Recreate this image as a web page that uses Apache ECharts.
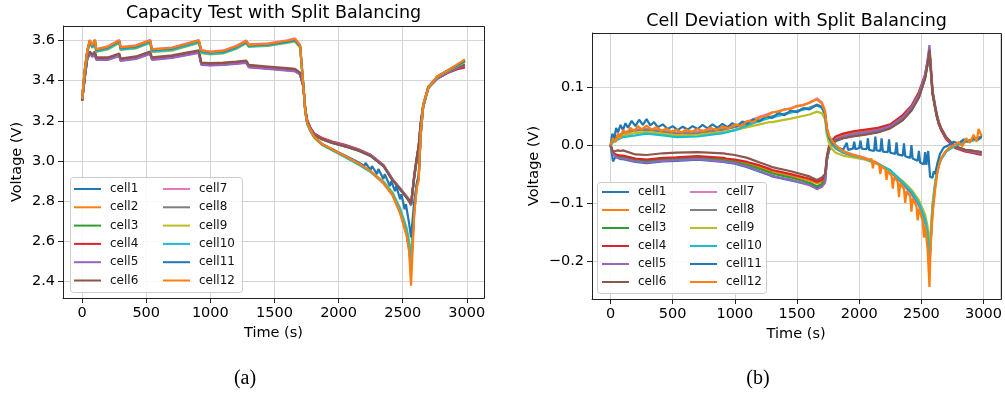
<!DOCTYPE html>
<html><head><meta charset="utf-8">
<script src="https://cdn.jsdelivr.net/npm/echarts@6/dist/echarts.min.js"></script>
<style>html,body{margin:0;padding:0;background:#fff}#c{width:1005px;height:398px}</style>
</head><body><div id="c"></div>
<script>
// ---------- DATA ----------
const cellNames = ['cell1','cell2','cell3','cell4','cell5','cell6','cell7','cell8','cell9','cell10','cell11','cell12'];
const cellColors = ['#1f77b4','#ff7f0e','#2ca02c','#d62728','#9467bd','#8c564b','#e377c2','#7f7f7f','#bcbd22','#17becf','#1f77b4','#ff7f0e'];

// shared time stamps (s)
const timeA = [0,20,40,60,80,100,110,200,290,300,420,530,545,700,910,930,1000,1100,1200,1280,1300,1450,1600,1660,1700,1725,1740,1755,1780,1810,1870,1950,2050,2150,2250,2350,2420,2480,2530,2550,2565,2590,2610,2625,2640,2660,2700,2770,2850,2920,2985];

// (a) cell voltages (V)
const voltCell1 = [3.30,3.41,3.508,3.535,3.52,3.535,3.505,3.505,3.525,3.50,3.51,3.535,3.505,3.515,3.54,3.48,3.477,3.48,3.485,3.49,3.468,3.46,3.452,3.448,3.432,3.372,3.256,3.20,3.162,3.132,3.108,3.09,3.073,3.053,3.025,2.975,2.905,2.858,2.818,2.80,2.78,2.92,3.01,3.07,3.18,3.27,3.365,3.41,3.44,3.46,3.472];
const voltCell2 = [3.30,3.412,3.51,3.537,3.522,3.537,3.507,3.507,3.527,3.502,3.512,3.537,3.507,3.517,3.542,3.482,3.479,3.482,3.487,3.492,3.47,3.462,3.454,3.45,3.433,3.373,3.257,3.201,3.164,3.134,3.11,3.092,3.075,3.055,3.027,2.977,2.907,2.86,2.82,2.802,2.782,2.922,3.012,3.072,3.18,3.27,3.366,3.411,3.441,3.461,3.474];
const voltCell3 = [3.30,3.411,3.509,3.536,3.521,3.536,3.506,3.506,3.526,3.501,3.511,3.536,3.506,3.516,3.541,3.481,3.478,3.481,3.486,3.491,3.469,3.461,3.453,3.449,3.432,3.372,3.256,3.2,3.163,3.133,3.109,3.091,3.074,3.054,3.026,2.976,2.906,2.859,2.819,2.801,2.781,2.921,3.011,3.071,3.18,3.27,3.365,3.41,3.44,3.46,3.47];
const voltCell4 = [3.30,3.415,3.512,3.538,3.523,3.538,3.508,3.508,3.528,3.503,3.513,3.538,3.508,3.518,3.543,3.483,3.48,3.483,3.488,3.493,3.471,3.463,3.455,3.451,3.434,3.375,3.258,3.203,3.166,3.137,3.115,3.097,3.08,3.06,3.031,2.98,2.91,2.862,2.822,2.805,2.785,2.92,3.01,3.07,3.18,3.27,3.365,3.41,3.438,3.455,3.465];
const voltCell5 = [3.30,3.41,3.505,3.533,3.518,3.533,3.503,3.503,3.523,3.498,3.508,3.533,3.503,3.513,3.538,3.478,3.475,3.478,3.483,3.488,3.466,3.458,3.45,3.446,3.43,3.37,3.255,3.20,3.163,3.133,3.111,3.094,3.077,3.057,3.03,2.98,2.91,2.865,2.825,2.808,2.782,2.925,3.015,3.075,3.185,3.275,3.365,3.41,3.44,3.46,3.475];
const voltCell6 = [3.30,3.42,3.52,3.545,3.53,3.545,3.515,3.515,3.535,3.51,3.52,3.545,3.515,3.525,3.55,3.49,3.487,3.49,3.495,3.50,3.478,3.47,3.462,3.458,3.44,3.38,3.26,3.20,3.16,3.13,3.108,3.09,3.073,3.053,3.025,2.975,2.905,2.86,2.82,2.805,2.787,2.93,3.02,3.08,3.19,3.28,3.37,3.415,3.445,3.465,3.48];
const voltCell7 = [3.31,3.45,3.55,3.602,3.577,3.604,3.557,3.57,3.602,3.567,3.575,3.602,3.557,3.564,3.602,3.552,3.544,3.55,3.572,3.60,3.58,3.585,3.60,3.61,3.577,3.38,3.25,3.19,3.155,3.12,3.085,3.058,3.024,2.988,2.948,2.888,2.83,2.742,2.635,2.56,2.45,2.74,2.872,2.92,3.125,3.272,3.365,3.42,3.45,3.476,3.502];
const voltCell8 = [3.31,3.445,3.545,3.595,3.57,3.597,3.55,3.563,3.595,3.56,3.568,3.595,3.55,3.557,3.595,3.545,3.537,3.543,3.565,3.592,3.573,3.578,3.593,3.602,3.57,3.378,3.248,3.188,3.153,3.118,3.083,3.056,3.022,2.987,2.947,2.89,2.835,2.75,2.645,2.57,2.47,2.745,2.875,2.915,3.125,3.272,3.365,3.42,3.449,3.474,3.50];
const voltCell9 = [3.31,3.44,3.537,3.587,3.562,3.589,3.542,3.555,3.587,3.552,3.56,3.587,3.542,3.549,3.587,3.537,3.53,3.535,3.557,3.585,3.567,3.572,3.587,3.594,3.563,3.375,3.245,3.185,3.15,3.116,3.08,3.053,3.02,2.985,2.947,2.90,2.845,2.765,2.67,2.60,2.52,2.76,2.88,2.92,3.13,3.275,3.365,3.418,3.447,3.47,3.492];
const voltCell10 = [3.31,3.44,3.54,3.59,3.565,3.592,3.545,3.558,3.59,3.555,3.563,3.59,3.545,3.552,3.59,3.54,3.533,3.538,3.56,3.588,3.57,3.575,3.59,3.598,3.567,3.375,3.245,3.185,3.15,3.117,3.082,3.055,3.02,2.985,2.945,2.895,2.84,2.76,2.66,2.59,2.495,2.76,2.88,2.92,3.13,3.275,3.365,3.418,3.448,3.472,3.495];
const timeV11 = [0,20,40,60,80,100,110,200,290,300,420,530,545,700,910,930,1000,1100,1200,1280,1300,1450,1600,1660,1700,1725,1740,1755,1780,1810,1870,1950,2050,2150,2200,2210,2250,2260,2300,2310,2350,2360,2400,2410,2440,2450,2480,2490,2515,2525,2550,2565,2590,2610,2625,2640,2660,2700,2770,2850,2920,2985];
const voltCell11 = [3.31,3.45,3.548,3.598,3.572,3.60,3.552,3.565,3.598,3.562,3.57,3.598,3.552,3.56,3.598,3.547,3.54,3.545,3.567,3.594,3.575,3.58,3.595,3.603,3.572,3.38,3.25,3.19,3.155,3.12,3.085,3.058,3.027,2.995,2.975,2.99,2.955,2.975,2.935,2.96,2.91,2.935,2.875,2.90,2.85,2.875,2.81,2.835,2.76,2.785,2.69,2.62,2.80,2.89,2.93,3.13,3.28,3.365,3.42,3.45,3.475,3.50];
const voltCell12 = [3.31,3.45,3.55,3.60,3.575,3.602,3.555,3.568,3.60,3.565,3.573,3.60,3.555,3.562,3.60,3.55,3.542,3.548,3.57,3.597,3.578,3.583,3.598,3.607,3.575,3.38,3.25,3.19,3.155,3.12,3.085,3.058,3.025,2.99,2.95,2.89,2.83,2.74,2.63,2.55,2.38,2.74,2.87,2.905,3.13,3.28,3.365,3.42,3.45,3.478,3.505];

// (b) cell deviation (V)
const devCell1 = [0.0,-0.028,-0.02,-0.022,-0.024,-0.024,-0.026,-0.029,-0.031,-0.03,-0.028,-0.027,-0.027,-0.025,-0.029,-0.03,-0.032,-0.038,-0.046,-0.052,-0.054,-0.061,-0.068,-0.074,-0.07,-0.063,-0.027,-0.01,0.0,0.007,0.012,0.016,0.019,0.023,0.03,0.044,0.06,0.083,0.116,0.14,0.16,0.088,0.064,0.048,0.036,0.026,0.011,-0.002,-0.008,-0.011,-0.013];
const devCell2 = [0.0,-0.013,-0.016,-0.018,-0.019,-0.019,-0.021,-0.024,-0.026,-0.025,-0.023,-0.022,-0.022,-0.02,-0.024,-0.025,-0.027,-0.031,-0.038,-0.044,-0.046,-0.053,-0.061,-0.066,-0.063,-0.057,-0.023,-0.006,0.005,0.012,0.017,0.021,0.024,0.027,0.033,0.048,0.064,0.087,0.12,0.143,0.163,0.09,0.066,0.05,0.037,0.026,0.011,-0.003,-0.009,-0.012,-0.014];
const devCell3 = [0.0,-0.014,-0.018,-0.02,-0.021,-0.021,-0.023,-0.026,-0.028,-0.027,-0.025,-0.024,-0.024,-0.022,-0.026,-0.027,-0.029,-0.034,-0.041,-0.047,-0.049,-0.056,-0.065,-0.071,-0.067,-0.06,-0.026,-0.01,0.001,0.008,0.013,0.017,0.02,0.024,0.031,0.046,0.062,0.085,0.118,0.142,0.162,0.09,0.066,0.05,0.038,0.027,0.012,-0.002,-0.008,-0.01,-0.012];
const devCell4 = [0.0,-0.013,-0.016,-0.017,-0.018,-0.018,-0.02,-0.023,-0.025,-0.024,-0.022,-0.021,-0.021,-0.019,-0.022,-0.023,-0.025,-0.029,-0.035,-0.041,-0.043,-0.05,-0.058,-0.063,-0.06,-0.054,-0.02,-0.003,0.008,0.015,0.02,0.024,0.027,0.03,0.036,0.052,0.068,0.092,0.122,0.145,0.165,0.09,0.066,0.05,0.037,0.026,0.01,-0.005,-0.011,-0.014,-0.017];
const devCell5 = [0.0,-0.015,-0.02,-0.022,-0.023,-0.023,-0.025,-0.028,-0.03,-0.029,-0.027,-0.026,-0.026,-0.024,-0.028,-0.029,-0.031,-0.037,-0.045,-0.051,-0.053,-0.06,-0.069,-0.076,-0.072,-0.065,-0.025,-0.008,0.003,0.01,0.015,0.019,0.022,0.026,0.033,0.048,0.065,0.088,0.122,0.148,0.173,0.095,0.07,0.053,0.04,0.028,0.012,-0.003,-0.009,-0.012,-0.014];
const devCell6 = [0.0,-0.012,-0.01,-0.009,-0.01,-0.009,-0.012,-0.016,-0.017,-0.016,-0.014,-0.013,-0.013,-0.012,-0.014,-0.015,-0.017,-0.022,-0.03,-0.036,-0.038,-0.045,-0.054,-0.06,-0.056,-0.05,-0.02,-0.006,0.003,0.008,0.012,0.015,0.018,0.022,0.029,0.043,0.06,0.082,0.115,0.14,0.165,0.092,0.068,0.052,0.04,0.029,0.014,-0.002,-0.008,-0.01,-0.012];
const devCell7 = [0.0,0.008,0.013,0.017,0.019,0.022,0.023,0.027,0.029,0.028,0.025,0.022,0.022,0.024,0.03,0.031,0.034,0.041,0.049,0.055,0.056,0.064,0.073,0.081,0.074,0.06,0.03,0.016,0.006,-0.002,-0.01,-0.016,-0.022,-0.031,-0.046,-0.067,-0.085,-0.105,-0.135,-0.16,-0.21,-0.115,-0.072,-0.049,-0.034,-0.023,-0.01,0.0,0.006,0.01,0.015];
const devCell8 = [0.0,0.008,0.012,0.016,0.018,0.021,0.021,0.025,0.027,0.026,0.023,0.02,0.02,0.021,0.027,0.028,0.031,0.037,0.044,0.049,0.05,0.057,0.065,0.07,0.066,0.053,0.025,0.012,0.002,-0.006,-0.013,-0.019,-0.024,-0.032,-0.046,-0.066,-0.083,-0.102,-0.13,-0.155,-0.19,-0.105,-0.068,-0.047,-0.034,-0.023,-0.01,0.0,0.006,0.01,0.015];
const devCell9 = [0.0,0.006,0.01,0.013,0.015,0.017,0.017,0.021,0.023,0.022,0.02,0.017,0.017,0.018,0.023,0.024,0.026,0.031,0.036,0.04,0.04,0.046,0.053,0.058,0.055,0.045,0.018,0.005,-0.006,-0.013,-0.018,-0.021,-0.025,-0.033,-0.045,-0.062,-0.077,-0.095,-0.12,-0.14,-0.18,-0.10,-0.065,-0.045,-0.032,-0.022,-0.01,0.0,0.005,0.008,0.012];
const devCell10 = [0.0,0.005,0.008,0.01,0.012,0.014,0.014,0.017,0.02,0.019,0.017,0.014,0.014,0.015,0.021,0.022,0.026,0.034,0.042,0.047,0.048,0.056,0.064,0.069,0.064,0.052,0.025,0.013,0.004,-0.004,-0.012,-0.018,-0.024,-0.032,-0.043,-0.064,-0.08,-0.10,-0.128,-0.15,-0.204,-0.11,-0.07,-0.05,-0.035,-0.024,-0.011,-0.001,0.005,0.009,0.014];
const timeD11 = [0,15,30,45,60,80,100,120,140,170,200,230,260,290,320,350,380,420,460,500,540,580,620,660,700,740,780,820,860,900,940,980,1020,1060,1100,1150,1200,1250,1300,1350,1400,1450,1500,1550,1600,1660,1700,1725,1740,1760,1790,1830,1870,1900,1910,1950,1960,1970,2000,2010,2020,2060,2070,2080,2120,2130,2140,2170,2180,2190,2230,2240,2250,2290,2300,2310,2350,2360,2370,2410,2420,2430,2470,2480,2490,2520,2530,2540,2555,2570,2590,2600,2610,2630,2650,2680,2720,2760,2800,2840,2880,2920,2950,2985];
const devCell11 = [0.0,0.02,0.01,0.03,0.022,0.035,0.026,0.038,0.03,0.042,0.033,0.044,0.035,0.045,0.034,0.04,0.031,0.036,0.028,0.033,0.026,0.032,0.027,0.033,0.028,0.035,0.029,0.036,0.03,0.037,0.031,0.038,0.033,0.041,0.037,0.045,0.041,0.05,0.047,0.056,0.052,0.06,0.057,0.064,0.062,0.07,0.066,0.055,0.028,0.012,0.003,-0.004,-0.008,0.004,-0.008,-0.006,0.006,-0.007,-0.005,0.008,-0.006,-0.007,0.012,-0.008,-0.01,0.015,-0.009,-0.01,0.012,-0.011,-0.012,0.01,-0.013,-0.015,0.005,-0.016,-0.018,0.003,-0.019,-0.022,0.0,-0.023,-0.027,-0.01,-0.03,-0.033,-0.012,-0.034,-0.01,-0.055,-0.056,-0.045,-0.05,-0.03,-0.015,-0.004,0.0,0.006,0.003,0.01,0.006,0.012,0.008,0.016];
const timeD12 = [0,20,40,60,80,100,130,160,190,220,250,290,330,370,410,450,490,530,570,610,650,700,750,800,850,900,950,1000,1050,1100,1150,1200,1250,1300,1350,1400,1450,1500,1550,1600,1660,1700,1725,1740,1760,1790,1830,1870,1920,1970,2020,2070,2100,2110,2120,2160,2170,2180,2210,2220,2230,2260,2270,2280,2310,2320,2330,2360,2370,2380,2410,2420,2430,2460,2470,2480,2510,2520,2530,2550,2565,2575,2590,2610,2630,2650,2680,2720,2760,2800,2830,2860,2890,2920,2945,2960,2985];
const devCell12 = [0.0,0.012,0.005,0.02,0.012,0.026,0.02,0.03,0.024,0.033,0.027,0.034,0.027,0.031,0.025,0.029,0.023,0.027,0.022,0.027,0.023,0.028,0.024,0.03,0.026,0.032,0.029,0.036,0.033,0.042,0.04,0.049,0.05,0.057,0.058,0.062,0.063,0.068,0.069,0.074,0.079,0.072,0.058,0.03,0.015,0.005,-0.004,-0.01,-0.015,-0.018,-0.021,-0.025,-0.024,-0.04,-0.028,-0.034,-0.05,-0.036,-0.042,-0.06,-0.045,-0.053,-0.075,-0.056,-0.063,-0.09,-0.066,-0.076,-0.10,-0.08,-0.088,-0.115,-0.092,-0.105,-0.13,-0.11,-0.13,-0.16,-0.14,-0.18,-0.245,-0.17,-0.12,-0.078,-0.045,-0.028,-0.015,-0.005,0.0,0.005,-0.002,0.012,0.004,0.018,0.006,0.028,0.016];

const voltTimes = [timeA,timeA,timeA,timeA,timeA,timeA,timeA,timeA,timeA,timeA,timeV11,timeA];
const voltValues = [voltCell1,voltCell2,voltCell3,voltCell4,voltCell5,voltCell6,voltCell7,voltCell8,voltCell9,voltCell10,voltCell11,voltCell12];
const devTimes = [timeA,timeA,timeA,timeA,timeA,timeA,timeA,timeA,timeA,timeA,timeD11,timeD12];
const devValues = [devCell1,devCell2,devCell3,devCell4,devCell5,devCell6,devCell7,devCell8,devCell9,devCell10,devCell11,devCell12];

// ---------- LAYOUT ----------
const FONT = '"DejaVu Sans", sans-serif';
const gA = {left: 63, top: 26, width: 421, height: 272};
const gB = {left: 592, top: 33, width: 409, height: 266};

function pairs(ts, vs) {
  const n = Math.min(ts.length, vs.length), out = [];
  for (let i = 0; i < n; i++) out.push([ts[i], vs[i]]);
  return out;
}
function near(v, step) { return Math.abs(v / step - Math.round(v / step)) < 1e-6; }

function xAxisCfg(gi) {
  return {
    type: 'value', gridIndex: gi, min: -149, max: 3134,
    name: 'Time (s)', nameLocation: 'middle', nameGap: 27,
    nameTextStyle: {fontFamily: FONT, fontSize: 14.5, color: '#000'},
    axisLine: {show: true, onZero: false, lineStyle: {color: '#222', width: 1}},
    axisTick: {show: true, inside: false, length: 5, lineStyle: {color: '#222'}},
    axisLabel: {show: true, margin: 8, fontFamily: FONT, fontSize: 14.5, color: '#000',
      showMinLabel: false, showMaxLabel: false,
      formatter: v => near(v, 500) ? String(Math.round(v)) : ''},
    splitLine: {show: true, lineStyle: {color: '#d4d4d4', width: 1}}
  };
}
function yAxisCfg(gi, min, max, split, fmtStep) {
  return {
    type: 'value', gridIndex: gi, min: min, max: max, splitNumber: split,
    name: 'Voltage (V)', nameLocation: 'middle', nameGap: gi === 0 ? 38 : 50,
    nameTextStyle: {fontFamily: FONT, fontSize: 14.5, color: '#000'},
    axisLine: {show: true, onZero: false, lineStyle: {color: '#222', width: 1}},
    axisTick: {show: true, inside: false, length: 5, lineStyle: {color: '#222'}},
    axisLabel: {show: true, margin: 8, fontFamily: FONT, fontSize: 14.5, color: '#000',
      showMinLabel: false, showMaxLabel: false,
      formatter: v => near(v, fmtStep) ? v.toFixed(1).replace('-', '\u2212').replace('\u22120.0', '0.0') : ''},
    splitLine: {show: true, lineStyle: {color: '#d4d4d4', width: 1}}
  };
}

const series = [];
cellNames.forEach((name, i) => {
  series.push({name, type: 'line', xAxisIndex: 0, yAxisIndex: 0, data: pairs(voltTimes[i], voltValues[i]),
    showSymbol: false, symbol: 'none', lineStyle: {width: 2.2, color: cellColors[i]}, itemStyle: {color: cellColors[i]},
    animation: false, silent: true, z: 2});
});
cellNames.forEach((name, i) => {
  series.push({name, type: 'line', xAxisIndex: 1, yAxisIndex: 1, data: pairs(devTimes[i], devValues[i]),
    showSymbol: false, symbol: 'none', lineStyle: {width: 2.2, color: cellColors[i]}, itemStyle: {color: cellColors[i]},
    animation: false, silent: true, z: 2});
});

function legendCfg(names, left, top, gap) {
  return {
    data: names, orient: 'vertical', left: left, top: top, padding: 0, itemGap: gap,
    itemWidth: 27, itemHeight: 2, icon: 'rect', selectedMode: false, z: 30,
    textStyle: {fontFamily: FONT, fontSize: 12, color: '#111', lineHeight: 18, padding: [0, 0, 0, 4]}
  };
}

function frame(g) {
  return {type: 'rect', z: 20, silent: true,
    shape: {x: g.left + 0.5, y: g.top + 0.5, width: g.width, height: g.height},
    style: {fill: 'none', stroke: '#222', lineWidth: 1}};
}
function legendBox(x, y, w, h) {
  return {type: 'rect', z: 25, silent: true, shape: {x: x + 0.5, y: y + 0.5, width: w, height: h, r: 3},
    style: {fill: 'rgba(255,255,255,0.85)', stroke: '#cccccc', lineWidth: 1}};
}
function label(text, x, y, size, family) {
  return {type: 'text', x: x, y: y, z: 30, silent: true,
    style: {text: text, fontSize: size, fontFamily: family, fill: '#000', align: 'center', verticalAlign: 'middle'}};
}

const chart = echarts.init(document.getElementById('c'), null, {renderer: 'canvas'});
chart.setOption({
  animation: false,
  backgroundColor: '#ffffff',
  grid: [
    Object.assign({show: false, containLabel: false}, gA),
    Object.assign({show: false, containLabel: false}, gB)
  ],
  xAxis: [xAxisCfg(0), xAxisCfg(1)],
  yAxis: [yAxisCfg(0, 2.3185, 3.6715, 7, 0.2), yAxisCfg(1, -0.266, 0.194, 5, 0.1)],
  legend: [
    legendCfg(cellNames.slice(0, 6), 74, 180, 0.3),
    legendCfg(cellNames.slice(6), 163, 180, 0.3),
    legendCfg(cellNames.slice(0, 6), 602, 183, 0),
    legendCfg(cellNames.slice(6), 690, 183, 0)
  ],
  series: series,
  graphic: {elements: [
    frame(gA), frame(gB),
    legendBox(70, 177, 172, 115),
    legendBox(597, 182, 169, 111),
    label('Capacity Test with Split Balancing', 273.5, 13.5, 17.5, FONT),
    label('Cell Deviation with Split Balancing', 796.5, 21.5, 17.5, FONT),
    label('(a)', 245, 379, 20, '"Liberation Serif", serif'),
    label('(b)', 758, 379, 20, '"Liberation Serif", serif')
  ]}
});
</script></body></html>
